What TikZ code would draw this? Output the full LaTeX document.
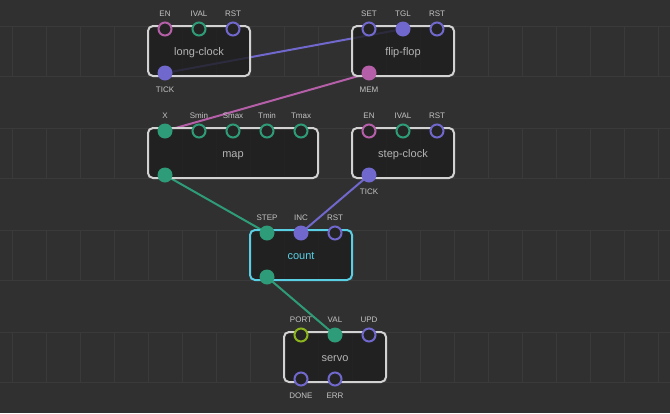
\documentclass[tikz,border=0pt]{standalone}
\usepackage{fontspec}
\setmainfont{Liberation Sans}
\definecolor{bgc}{HTML}{303030}
\definecolor{gridc}{HTML}{3A3A3A}
\definecolor{boxborder}{HTML}{D2D2D2}
\definecolor{boxfill}{HTML}{1E1E1E}
\definecolor{pinfill}{HTML}{242424}
\definecolor{titlec}{HTML}{B4B4B4}
\definecolor{labelc}{HTML}{C4C4C4}
\definecolor{cpink}{HTML}{B45FA8}
\definecolor{cgreen}{HTML}{2E9C78}
\definecolor{cpurple}{HTML}{7068CC}
\definecolor{cyellow}{HTML}{8DB51E}
\definecolor{ccyan}{HTML}{5ACFE4}
\pgfdeclarelayer{bglayer}
\pgfdeclarelayer{linklayer}
\pgfsetlayers{bglayer,linklayer,main}
\newcommand\pinT[5]{\node[#4] (#1) at (#2,#3) {}; \node[pinlabel] (#1-l) at (#2,#3-15) {#5};}
\newcommand\pinB[5]{\node[#4] (#1) at (#2,#3) {}; \node[pinlabel] (#1-l) at (#2,#3+17) {#5};}
\newcommand\pinN[4]{\node[#4] (#1) at (#2,#3) {};}
\begin{document}
\begin{tikzpicture}[x=1pt,y=-1pt,
  gridline/.style={draw=gridc, line width=1.5pt},
  box/.style={draw=boxborder, line width=2pt, rounded corners=5pt, fill=boxfill, fill opacity=0.82, text opacity=1,
    minimum height=50pt, inner sep=0pt, text=titlec, text height=8pt, text depth=2.5pt,
    font=\fontsize{11}{13}\selectfont},
  title/.style={yshift=-1.5pt},
  pino/.style={circle, draw=#1, line width=2pt, fill=pinfill, minimum size=13pt, inner sep=0pt},
  pinf/.style={circle, fill=#1, minimum size=15pt, inner sep=0pt},
  pinlabel/.style={text=labelc, font=\fontsize{8}{9}\selectfont, inner sep=0pt},
  link/.style={draw=#1, line width=2pt}]
\useasboundingbox (0,0) rectangle (670,413);
\begin{pgfonlayer}{bglayer}
\fill[bgc] (0,0) rectangle (670,413);
\foreach \j in {0,...,3} {
  \pgfmathsetmacro\yt{26.5+102*\j}
  \draw[gridline] (0,\yt) -- (670,\yt);
  \draw[gridline] (0,\yt+50) -- (670,\yt+50);
  \foreach \k in {0,...,19} \draw[gridline] (12.5+34*\k,\yt) -- (12.5+34*\k,\yt+50);
}
\end{pgfonlayer}

% boxes
\node[box, minimum width=102pt] (lc) at (199,51) {};
\node[box, minimum width=102pt] (ff) at (403,51) {};
\node[box, minimum width=170pt] (map) at (233,153) {};
\node[box, minimum width=102pt] (sc) at (403,153) {};
\node[box, minimum width=102pt, draw=ccyan] (cnt) at (301,255) {};
\node[box, minimum width=102pt] (servo) at (335,357) {};
% titles
\node[box, draw=none, fill=none, minimum height=0pt, title] (lc-t) at (lc.center) {long-clock};
\node[box, draw=none, fill=none, minimum height=0pt, title] (ff-t) at (ff.center) {flip-flop};
\node[box, draw=none, fill=none, minimum height=0pt, title] (map-t) at (map.center) {map};
\node[box, draw=none, fill=none, minimum height=0pt, title] (sc-t) at (sc.center) {step-clock};
\node[box, draw=none, fill=none, minimum height=0pt, title, text=ccyan] (cnt-t) at (cnt.center) {count};
\node[box, draw=none, fill=none, minimum height=0pt, title] (servo-t) at (servo.center) {servo};

% long-clock pins
\pinT{lc-en}{165}{29}{pino=cpink}{EN}
\pinT{lc-ival}{199}{29}{pino=cgreen}{IVAL}
\pinT{lc-rst}{233}{29}{pino=cpurple}{RST}
\pinB{lc-tick}{165}{73}{pinf=cpurple}{TICK}
% flip-flop pins
\pinT{ff-set}{369}{29}{pino=cpurple}{SET}
\pinT{ff-tgl}{403}{29}{pinf=cpurple}{TGL}
\pinT{ff-rst}{437}{29}{pino=cpurple}{RST}
\pinB{ff-mem}{369}{73}{pinf=cpink}{MEM}
% map pins
\pinT{map-x}{165}{131}{pinf=cgreen}{X}
\pinT{map-smin}{199}{131}{pino=cgreen}{Smin}
\pinT{map-smax}{233}{131}{pino=cgreen}{Smax}
\pinT{map-tmin}{267}{131}{pino=cgreen}{Tmin}
\pinT{map-tmax}{301}{131}{pino=cgreen}{Tmax}
\pinN{map-out}{165}{175}{pinf=cgreen}
% step-clock pins
\pinT{sc-en}{369}{131}{pino=cpink}{EN}
\pinT{sc-ival}{403}{131}{pino=cgreen}{IVAL}
\pinT{sc-rst}{437}{131}{pino=cpurple}{RST}
\pinB{sc-tick}{369}{175}{pinf=cpurple}{TICK}
% count pins
\pinT{cnt-step}{267}{233}{pinf=cgreen}{STEP}
\pinT{cnt-inc}{301}{233}{pinf=cpurple}{INC}
\pinT{cnt-rst}{335}{233}{pino=cpurple}{RST}
\pinN{cnt-out}{267}{277}{pinf=cgreen}
% servo pins
\pinT{sv-port}{301}{335}{pino=cyellow}{PORT}
\pinT{sv-val}{335}{335}{pinf=cgreen}{VAL}
\pinT{sv-upd}{369}{335}{pino=cpurple}{UPD}
\pinB{sv-done}{301}{379}{pino=cpurple}{DONE}
\pinB{sv-err}{335}{379}{pino=cpurple}{ERR}

% links
\begin{pgfonlayer}{linklayer}
\draw[link=cpurple] (lc-tick.center) -- (ff-tgl.center);
\draw[link=cpink] (ff-mem.center) -- (map-x.center);
\draw[link=cgreen] (map-out.center) -- (cnt-step.center);
\draw[link=cpurple] (sc-tick.center) -- (cnt-inc.center);
\draw[link=cgreen] (cnt-out.center) -- (sv-val.center);
\end{pgfonlayer}
\end{tikzpicture}
\end{document}
